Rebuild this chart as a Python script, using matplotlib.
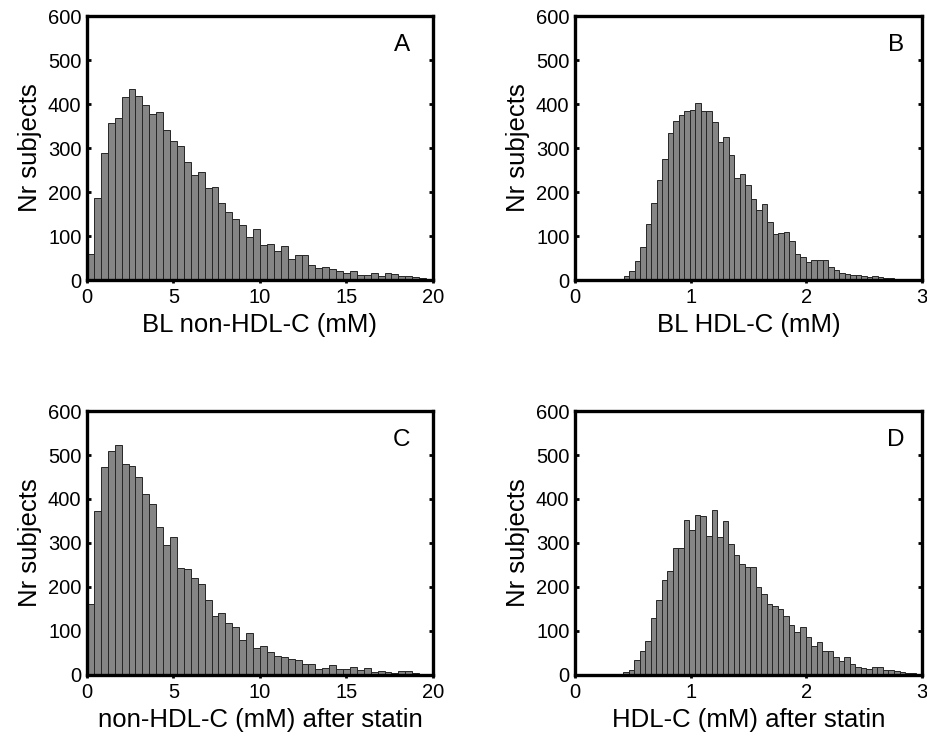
import numpy as np
import matplotlib
matplotlib.use("Agg")
import matplotlib.pyplot as plt

plt.rcParams['font.family'] = ['Liberation Sans', 'DejaVu Sans']

# ---- data (counts per bin) ----
# A: baseline non-HDL-C, bins of 0.4 mM starting at 0
counts_A = [59, 187, 288, 357, 368, 417, 435, 418, 398, 377,
            382, 342, 316, 304, 269, 238, 246, 210, 212, 176,
            155, 138, 126, 98, 115, 79, 81, 65, 78, 48,
            56, 56, 35, 28, 29, 25, 21, 17, 20, 11,
            12, 15, 10, 15, 14, 8, 10, 6, 4, 3]
# B: baseline HDL-C
counts_B = [1, 0, 2, 8, 20, 44, 76, 128, 176, 227,
            274, 334, 362, 374, 383, 387, 403, 383, 383, 359,
            313, 325, 285, 231, 240, 215, 185, 160, 172, 131,
            104, 106, 109, 88, 60, 53, 40, 45, 45, 46,
            30, 23, 15, 13, 12, 11, 9, 7, 9, 6,
            5, 5]
# C: non-HDL-C after statin, bins of 0.4 mM starting at 0
counts_C = [162, 373, 473, 509, 523, 479, 476, 451, 411, 388,
            336, 296, 314, 244, 241, 220, 207, 170, 133, 141,
            118, 110, 80, 96, 62, 66, 52, 44, 40, 37,
            35, 25, 26, 13, 17, 22, 14, 14, 19, 11,
            17, 6, 8, 6, 5, 8, 8, 4, 2, 1]
# D: HDL-C after statin
counts_D = [2, 6, 11, 34, 55, 77, 130, 170, 216, 236,
            288, 288, 353, 330, 363, 361, 316, 375, 314, 350,
            298, 273, 253, 245, 245, 201, 183, 162, 156, 149,
            134, 113, 98, 109, 87, 66, 74, 55, 55, 40,
            32, 41, 26, 19, 16, 13, 19, 19, 11, 11,
            10, 6, 4, 4, 2]

bins_A = (0.0, 0.4)      # (first edge, bin width) in mM
bins_B = (0.276, 0.0478)
bins_C = (0.0, 0.4)
bins_D = (0.368, 0.0478)

xlabels = ["BL non-HDL-C (mM)", "BL HDL-C (mM)",
           "non-HDL-C (mM) after statin", "HDL-C (mM) after statin"]
letters = ["A", "B", "C", "D"]
xlims = [(0, 20), (0, 3), (0, 20), (0, 3)]
xticks = [[0, 5, 10, 15, 20], [0, 1, 2, 3], [0, 5, 10, 15, 20], [0, 1, 2, 3]]
yticks = [0, 100, 200, 300, 400, 500, 600]

W, H = 928, 736
fig = plt.figure(figsize=(W / 100, H / 100), dpi=100)

def rect(l, r, t, b):
    return [l / W, 1 - b / H, (r - l) / W, (b - t) / H]

rects = [rect(87, 433, 16, 280), rect(575, 922, 16, 280),
         rect(87, 433, 411, 675), rect(575, 922, 411, 675)]

series = [(counts_A, bins_A), (counts_B, bins_B), (counts_C, bins_C), (counts_D, bins_D)]

for i, ((counts, (start, w)), r) in enumerate(zip(series, rects)):
    ax = fig.add_axes(r)
    edges = start + w * np.arange(len(counts))
    ax.bar(edges, counts, width=w, align='edge', color='#858585',
           edgecolor='#262626', linewidth=0.7, zorder=2)
    ax.set_xlim(*xlims[i])
    ax.set_ylim(0, 600)
    ax.set_xticks(xticks[i])
    ax.set_yticks(yticks)
    for s in ax.spines.values():
        s.set_linewidth(2.4)
        s.set_color('black')
    ax.tick_params(axis='both', labelsize=14.5, width=2, length=2, direction='out', pad=4)
    ax.tick_params(axis='y', right=True, direction='in', length=3)
    ax.tick_params(axis='y', left=True)
    ax.set_ylabel("Nr subjects", fontsize=18.5, labelpad=4)
    ax.set_xlabel(xlabels[i], fontsize=18.5, labelpad=4)
    x0, x1 = xlims[i]
    ax.text(x0 + (x1 - x0) * (0.91 if i % 2 == 0 else 0.925), 535, letters[i],
            fontsize=17.5, ha='center', va='center')

fig.savefig("out.png", dpi=100)
